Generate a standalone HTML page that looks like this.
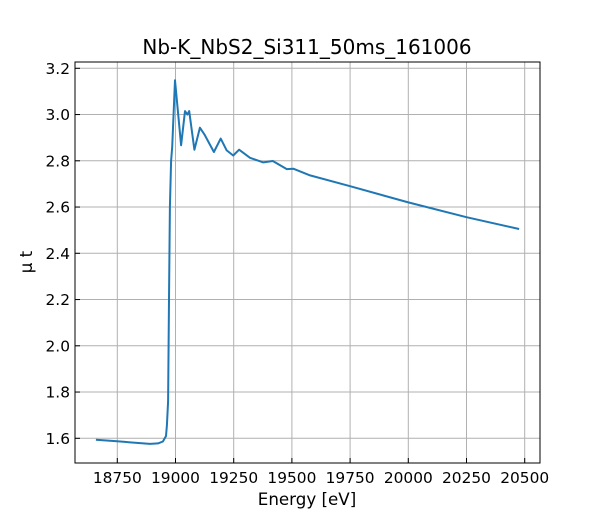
<!DOCTYPE html>
<html><head><meta charset="utf-8"><style>
body{margin:0;background:#fff}
svg{display:block;font-family:"DejaVu Sans","Liberation Sans",sans-serif}
</style></head><body>
<svg id="chart" width="600" height="520">
<rect width="600" height="520" fill="#fff"/>
<g id="grid"></g>
<g id="ticks"></g>
<path id="line" fill="none" stroke="#1f77b4" stroke-width="2" stroke-linejoin="round"/>
<rect x="75" y="62" width="465" height="401" fill="none" stroke="#000" stroke-width="1"/>
<text x="307" y="54" text-anchor="middle" font-size="20">Nb-K_NbS2_Si311_50ms_161006</text>
<text x="307" y="505" text-anchor="middle" font-size="16.7">Energy [eV]</text>
<text transform="translate(32,262) rotate(-90)" text-anchor="middle" font-size="16.7">μ t</text>
</svg>
<script>
const energies=[18658,18749,18890,18925,18946,18959,18963,18968,18972,18976,18981,18986,18998,19024,19041,19051,19059,19081,19105,19124,19165,19194,19220,19248,19273,19320,19377,19418,19478,19506,19578,19750,20000,20250,20476];
const mu=[1.594,1.587,1.576,1.578,1.586,1.610,1.656,1.76,2.2,2.6,2.80,2.86,3.148,2.867,3.015,3.00,3.015,2.848,2.943,2.914,2.838,2.896,2.845,2.823,2.848,2.813,2.793,2.799,2.764,2.766,2.737,2.69,2.62,2.556,2.505];
const xTicks=[18750,19000,19250,19500,19750,20000,20250,20500];
const yTicks=[1.6,1.8,2.0,2.2,2.4,2.6,2.8,3.0,3.2];
const L=75,R=540,T=62,B=463;
const X=e=>175.5+(e-19000)*58.2/250;
const Y=v=>438.3-(v-1.6)*231.25;
const NS="http://www.w3.org/2000/svg";
const grid=document.getElementById('grid'),ticks=document.getElementById('ticks');
function mk(tag,attrs,parent){const el=document.createElementNS(NS,tag);for(const k in attrs)el.setAttribute(k,attrs[k]);parent.appendChild(el);return el;}
xTicks.forEach(t=>{const x=X(t);
 const g=mk('line',{x1:x,x2:x,y1:T,y2:B,stroke:'#b0b0b0','stroke-width':1},grid);
 
 
 mk('line',{x1:x,x2:x,y1:B,y2:B-5,stroke:'#000','stroke-width':1},ticks);
 const tx=mk('text',{x:x,y:B+20,'text-anchor':'middle','font-size':15.4},ticks);
 tx.textContent=t;
 
 
});
yTicks.forEach(t=>{const y=Y(t);
 const g=mk('line',{x1:L,x2:R,y1:y,y2:y,stroke:'#b0b0b0','stroke-width':1},grid);
 
 
 mk('line',{x1:L,x2:L+5,y1:y,y2:y,stroke:'#000','stroke-width':1},ticks);
 const tx=mk('text',{x:L-5,y:y+5.5,'text-anchor':'end','font-size':15.4},ticks);
 tx.textContent=t.toFixed(1);
 
 
});
document.getElementById('line').setAttribute('d',energies.map((e,i)=>(i?'L':'M')+X(e).toFixed(1)+','+Y(mu[i]).toFixed(1)).join(''));
</script>
</body></html>
